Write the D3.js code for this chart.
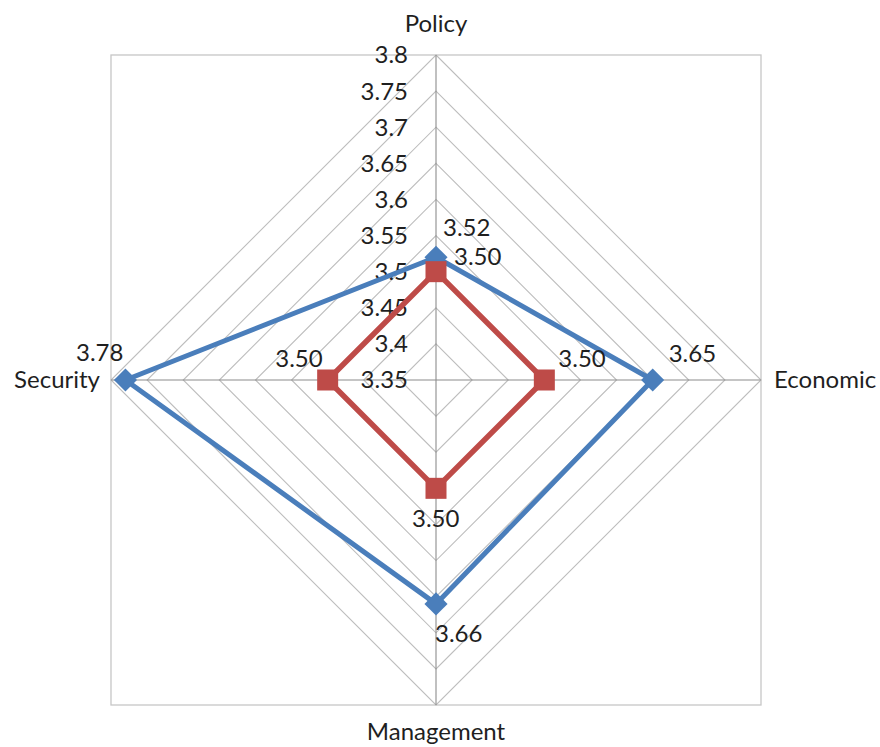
<!DOCTYPE html>
<html><head><meta charset="utf-8">
<script src="https://cdn.jsdelivr.net/npm/d3@7"></script>
<style>body{margin:0;background:#fff}svg{display:block}text{font-family:Lato,"Open Sans",sans-serif;fill:#1f1f1f}</style>
</head><body>
<svg id="c" width="880" height="747"></svg>
<script>
const categories = ["Policy", "Economic", "Management", "Security"];
const seriesA = [3.52, 3.65, 3.66, 3.78];
const seriesB = [3.50, 3.50, 3.50, 3.50];
const tickValues = [3.35, 3.4, 3.45, 3.5, 3.55, 3.6, 3.65, 3.7, 3.75, 3.8];
const tickLabels = ["3.35", "3.4", "3.45", "3.5", "3.55", "3.6", "3.65", "3.7", "3.75", "3.8"];

const svg = d3.select("#c");
const cx = 436, cy = 380, R = 325;
const r = d3.scaleLinear().domain([3.35, 3.8]).range([0, R]);
const ang = d3.scalePoint().domain(categories).range([0, 2 * Math.PI * 3 / 4]);
const pt = (cat, v) => { const a = ang(cat); return [cx + r(v) * Math.sin(a), cy - r(v) * Math.cos(a)]; };
const FS = 24;

// outer box
svg.append("rect").attr("x", cx - R).attr("y", cy - R).attr("width", 2 * R).attr("height", 2 * R)
  .attr("fill", "none").attr("stroke", "#c6c6c6").attr("stroke-width", 1.3);

// grid diamonds
tickValues.slice(1).forEach(v => {
  const pts = categories.map(c => pt(c, v));
  svg.append("polygon").attr("points", pts.map(p => p.join(",")).join(" "))
    .attr("fill", "none").attr("stroke", "#bdbdbd").attr("stroke-width", 1.1);
});
// spokes
categories.forEach(c => {
  const p = pt(c, 3.8);
  svg.append("line").attr("x1", cx).attr("y1", cy).attr("x2", p[0]).attr("y2", p[1])
    .attr("stroke", "#8c8c8c").attr("stroke-width", 1.1);
});
// tick labels
tickValues.forEach((v, i) => {
  svg.append("text").attr("x", cx - 28).attr("y", cy - r(v)).attr("dy", "0.35em")
    .attr("text-anchor", "end").attr("font-size", FS).text(tickLabels[i]);
});

// series
const line = d3.line();
function drawSeries(vals, color, width) {
  const pts = categories.map((c, i) => pt(c, vals[i]));
  svg.append("path").attr("d", line(pts) + "Z").attr("fill", "none")
    .attr("stroke", color).attr("stroke-width", width).attr("stroke-linejoin", "round");
  return pts;
}
const pa = drawSeries(seriesA, "#4a7ebb", 5);
pa.forEach(p => {
  svg.append("path").attr("d", d3.symbol(d3.symbolDiamond2, 340)())
    .attr("transform", `translate(${p[0]},${p[1]})`).attr("fill", "#4a7ebb");
});
const pb = drawSeries(seriesB, "#be4b48", 5.5);
pb.forEach(p => {
  svg.append("rect").attr("x", p[0] - 10.5).attr("y", p[1] - 10.5).attr("width", 21).attr("height", 21)
    .attr("fill", "#be4b48");
});

// data labels
const fmt = d3.format(".2f");
const offA = [[7, -30, "start"], [16, -26, "start"], [-1, 30, "start"], [-2, -27, "end"]];
const offB = [[18, -15, "start"], [14, -21, "start"], [-24, 30, "start"], [-5, -21, "end"]];
pa.forEach((p, i) => {
  svg.append("text").attr("x", p[0] + offA[i][0]).attr("y", p[1] + offA[i][1]).attr("dy", "0.35em")
    .attr("text-anchor", offA[i][2]).attr("font-size", FS).text(fmt(seriesA[i]));
});
pb.forEach((p, i) => {
  svg.append("text").attr("x", p[0] + offB[i][0]).attr("y", p[1] + offB[i][1]).attr("dy", "0.35em")
    .attr("text-anchor", offB[i][2]).attr("font-size", FS).text(fmt(seriesB[i]));
});

// category labels
const catPos = [[0, -356, "middle"], [338, 0, "start"], [0, 352, "middle"], [-336, 0, "end"]];
categories.forEach((c, i) => {
  svg.append("text").attr("x", cx + catPos[i][0]).attr("y", cy + catPos[i][1]).attr("dy", "0.35em")
    .attr("text-anchor", catPos[i][2]).attr("font-size", FS).text(c);
});
</script>
</body></html>
